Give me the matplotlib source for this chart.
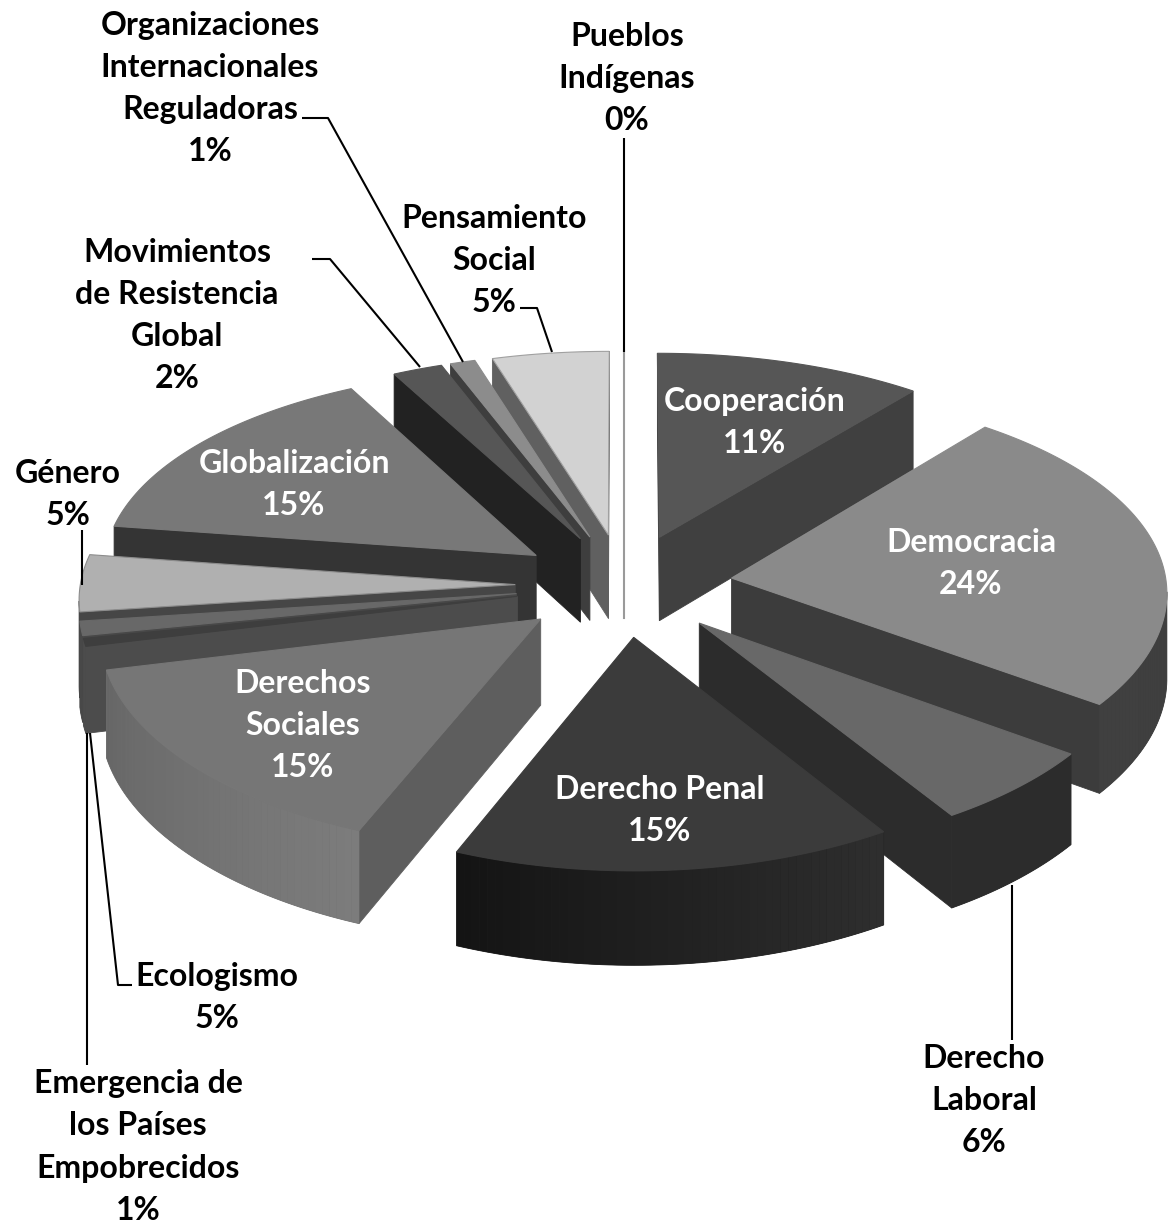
import numpy as np
import matplotlib
matplotlib.use("Agg")
import matplotlib.pyplot as plt
from matplotlib.patches import Polygon

# Slices clockwise from 12 o'clock
names = ["Pueblos Indígenas", "Cooperación", "Democracia", "Derecho Laboral",
         "Derecho Penal", "Derechos Sociales", "Emergencia", "Ecologismo",
         "Género", "Globalización", "Movimientos", "Organizaciones", "Pensamiento"]
label_pct = [0, 11, 24, 6, 15, 15, 1, 5, 5, 15, 2, 1, 5]
sweep_pct = [0, 10.7, 24.3, 6, 15.2, 15, 0.6, 1.1, 4.45, 15, 2, 1, 4.65]

top_grey = ["#9a9a9a", "#565656", "#8a8a8a", "#686868", "#3b3b3b", "#767676", "#3e3e3e",
            "#686868", "#b0b0b0", "#787878", "#565656", "#8c8c8c", "#d2d2d2"]
wall_grey = ["#9a9a9a", "#404040", "#3c3c3c", "#2c2c2c", "#2c2c2c", "#5e5e5e", "#4c4c4c",
             "#484848", "#464646", "#343434", "#222222", "#3e3e3e", "#606060"]
rim_from = ["#9a9a9a", "#404040", "#3c3c3c", "#2c2c2c", "#2e2e2e", "#7c7c7c", "#4c4c4c",
            "#484848", "#464646", "#343434", "#222222", "#3e3e3e", "#606060"]
rim_to = ["#9a9a9a", "#404040", "#404040", "#2c2c2c", "#141414", "#666666", "#4c4c4c",
          "#484848", "#464646", "#343434", "#222222", "#3e3e3e", "#606060"]
# thin grey outline on the two light slices
top_edge = {8: "#8c8c8c", 12: "#a0a0a0"}

# Text blocks: (text, x, y, colour)
labels = [
    ("Organizaciones\nInternacionales\nReguladoras\n1%", 210, 88.5, "black"),
    ("Pueblos\nIndígenas\n0%", 627, 78.5, "black"),
    ("Pensamiento\nSocial\n5%", 494, 260.5, "black"),
    ("Movimientos\nde Resistencia\nGlobal\n2%", 177, 315.5, "black"),
    ("Género\n5%", 68, 494.5, "black"),
    ("Globalización\n15%", 294, 484.5, "white"),
    ("Cooperación\n11%", 755, 422.5, "white"),
    ("Democracia\n24%", 971, 563.5, "white"),
    ("Derechos\nSociales\n15%", 303, 725.5, "white"),
    ("Derecho Penal\n15%", 660, 810.5, "white"),
    ("Ecologismo\n5%", 217, 997.5, "black"),
    ("Emergencia de\nlos Países\nEmpobrecidos\n1%", 138, 1147, "black"),
    ("Derecho\nLaboral\n6%", 984, 1100.5, "black"),
]

leaders = [
    ([302, 328, 463], [118, 118, 362]),
    ([624, 624], [138, 352]),
    ([520, 537, 552], [308, 308, 352]),
    ([312, 330, 420], [259, 259, 367]),
    ([82, 82], [530, 585]),
    ([132, 118, 90], [985, 985, 733]),
    ([87, 87], [1065, 733]),
    ([1012, 1012], [1040, 885]),
]

# Projection of the tilted disc, in image pixels
CX, CY = 624, 585
RX, RY = 435, 206
PERSP_X = 0.06
PERSP_Y = 0.08
EXPLODE = 0.25
DEPTH = 85


def project(u, v, drop=0.0):
    sx = 1.0 / (1.0 - PERSP_X * v)
    sy = 1.0 / (1.0 - PERSP_Y * v)
    return CX + RX * u * sx, CY + (RY * v + drop) * sy


def signed_area(pts):
    x, y = np.array(pts).T
    return 0.5 * np.sum(x * np.roll(y, -1) - np.roll(x, -1) * y)


def blend(c0, c1, t):
    a = np.array(matplotlib.colors.to_rgb(c0))
    b = np.array(matplotlib.colors.to_rgb(c1))
    return tuple(a + (b - a) * t)


def draw_face(ax, pts, colour, lw=0.6):
    if signed_area(pts) <= 0:
        ax.add_patch(Polygon(pts, closed=True, fc=colour, ec=colour, lw=lw))


def draw_slice(ax, t0, t1, i):
    mid = np.radians((t0 + t1) / 2)
    ou, ov = EXPLODE * np.sin(mid), -EXPLODE * np.cos(mid)
    th = np.radians(np.linspace(t0, t1, max(int(t1 - t0), 1) + 1))
    us, vs = ou + np.sin(th), ov - np.cos(th)

    top = [project(u, v) for u, v in zip(us, vs)]
    bot = [project(u, v, DEPTH) for u, v in zip(us, vs)]
    a_top, a_bot = project(ou, ov), project(ou, ov, DEPTH)

    if t1 == t0:
        # zero-size slice only shows up as a hairline
        ax.plot([top[0][0], a_bot[0]], [top[0][1], a_bot[1]], color=wall_grey[i], lw=1.5)
        return

    draw_face(ax, [a_top, top[0], bot[0], a_bot], wall_grey[i])
    draw_face(ax, [top[-1], a_top, a_bot, bot[-1]], wall_grey[i])

    n = len(top) - 1
    vis = [j for j in range(n) if signed_area([top[j], top[j + 1], bot[j + 1], bot[j]]) < 0]
    if vis:
        # solid backing so the gradient strips leave no seams
        idx = vis + [vis[-1] + 1]
        outline = [top[j] for j in idx] + [bot[j] for j in reversed(idx)]
        base = blend(rim_from[i], rim_to[i], 0.5)
        ax.add_patch(Polygon(outline, closed=True, fc=base, ec=base, lw=0.6))
        for j in vis:
            ax.add_patch(Polygon([top[j], top[j + 1], bot[j + 1], bot[j]], closed=True,
                                 fc=blend(rim_from[i], rim_to[i], j / max(n - 1, 1)), ec="none"))

    ax.add_patch(Polygon([a_top] + top, closed=True, fc=top_grey[i],
                         ec=top_edge.get(i, top_grey[i]), lw=0.8))


def main():
    fig = plt.figure(figsize=(11.69, 12.26), dpi=100)
    ax = fig.add_axes([0, 0, 1, 1])
    ax.set_xlim(0, 1169)
    ax.set_ylim(1226, 0)
    ax.axis("off")

    edges = np.concatenate([[0], np.cumsum(sweep_pct)]) * 3.6
    # back slices first so the front ones paint over them
    order = sorted(range(len(names)), key=lambda i: -np.cos(np.radians((edges[i] + edges[i + 1]) / 2)))
    for i in order:
        draw_slice(ax, edges[i], edges[i + 1], i)

    for xs, ys in leaders:
        ax.plot(xs, ys, color="black", lw=1.5, solid_capstyle="butt")

    for text, x, y, colour in labels:
        ax.text(x, y, text, color=colour, ha="center", va="center", family="Lato",
                fontweight="bold", fontsize=23, linespacing=1.55)

    fig.savefig("out.png", dpi=100)


if __name__ == "__main__":
    main()
